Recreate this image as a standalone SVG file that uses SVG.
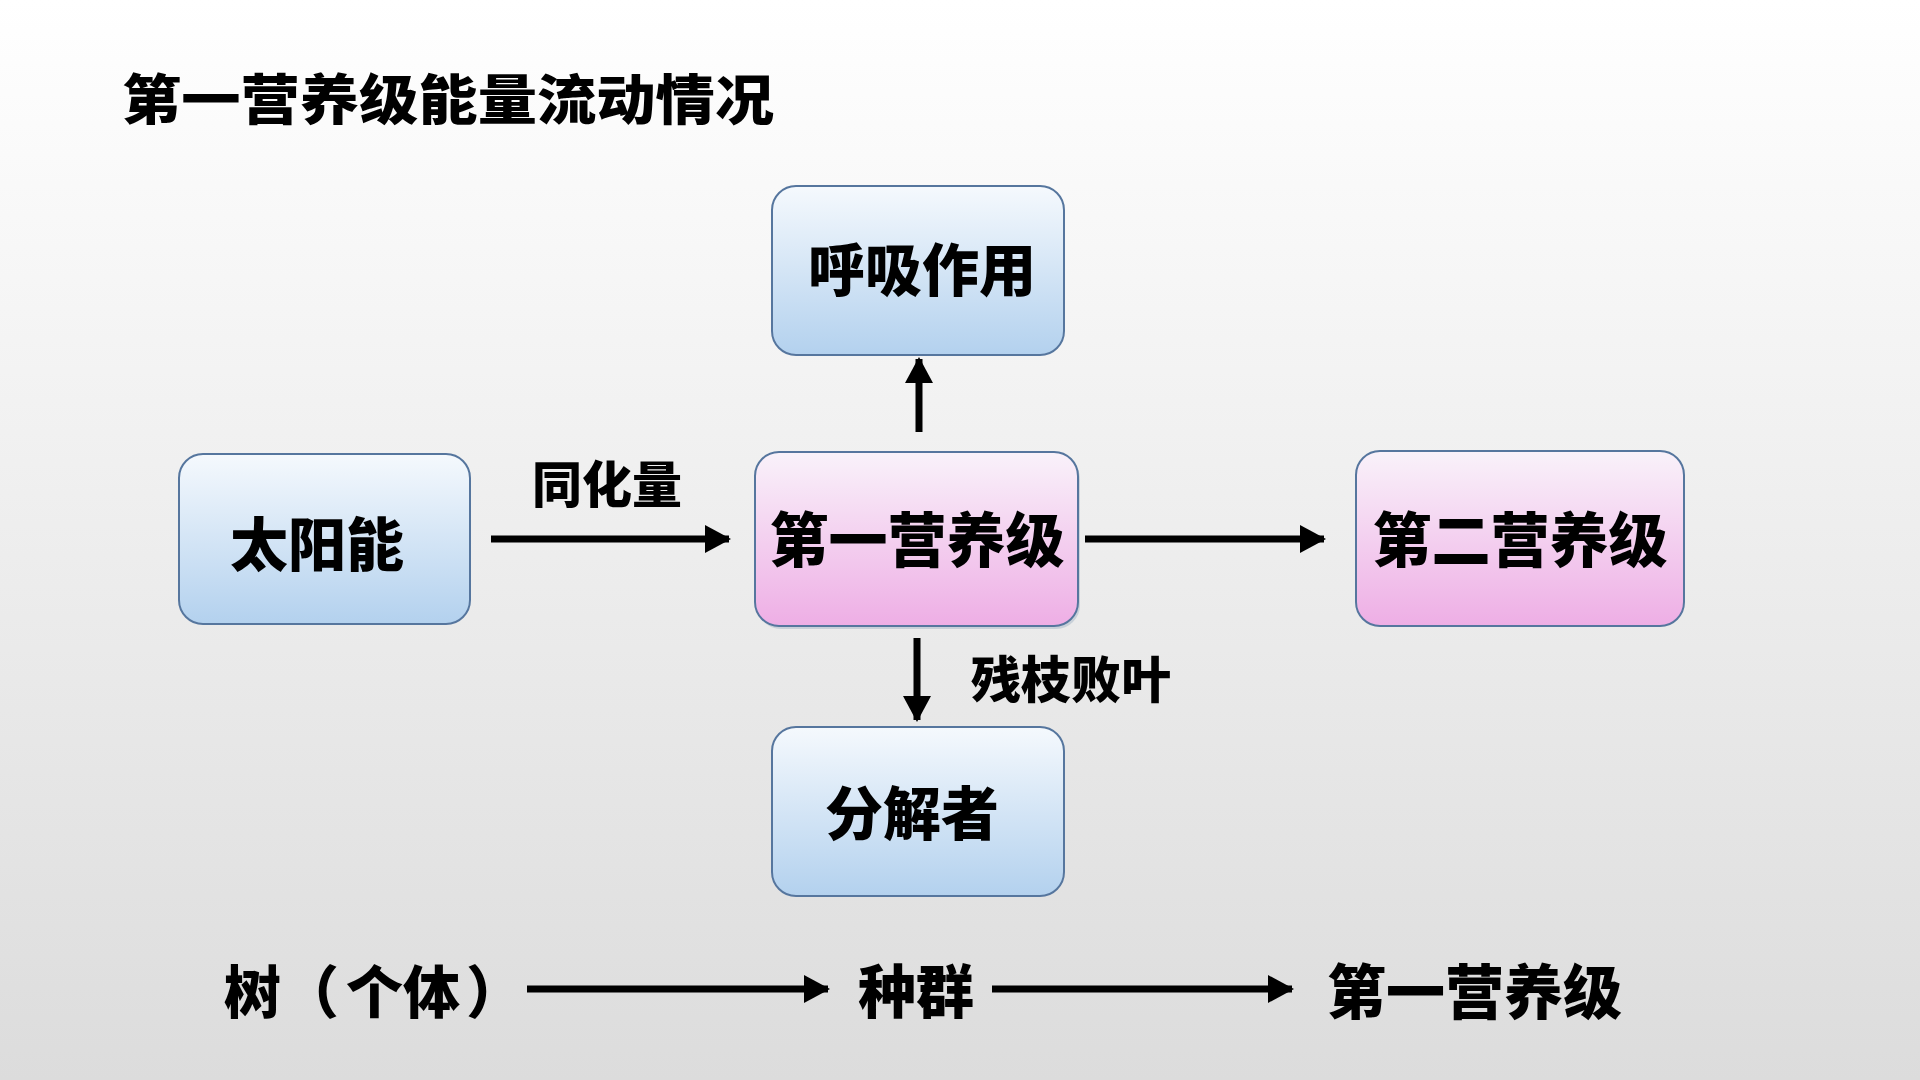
<svg xmlns="http://www.w3.org/2000/svg" width="1920" height="1080" viewBox="0 0 1920 1080">
<style>
.t{font-family:"Noto Sans CJK SC","Noto Sans",sans-serif;font-weight:900;fill:#000;dominant-baseline:central;}
.box{stroke:#56769e;stroke-width:2;}
.blue{fill:url(#gBlue);}
.pink{fill:url(#gPink);}
.arr{stroke:#000;stroke-width:7;fill:none;marker-end:url(#ah);}
</style>
<defs>
<linearGradient id="bg" x1="0" y1="0" x2="0" y2="1">
<stop offset="0" stop-color="#ffffff"/>
<stop offset="1" stop-color="#dcdcdc"/>
</linearGradient>
<linearGradient id="gBlue" x1="0" y1="0" x2="0" y2="1">
<stop offset="0" stop-color="#f5f9fd"/>
<stop offset="1" stop-color="#b3d1ee"/>
</linearGradient>
<linearGradient id="gPink" x1="0" y1="0" x2="0" y2="1">
<stop offset="0" stop-color="#f9f2fa"/>
<stop offset="1" stop-color="#eeaee5"/>
</linearGradient>
<marker id="ah" markerUnits="userSpaceOnUse" markerWidth="26" markerHeight="28" refX="24" refY="14" orient="auto">
<path d="M0,0 L26,14 L0,28 Z" fill="#000"/>
</marker>
</defs>
<rect x="0" y="0" width="1920" height="1080" fill="url(#bg)"/>
<text class="t" x="122" y="96" font-size="54" textLength="652" lengthAdjust="spacingAndGlyphs">第一营养级能量流动情况</text>

<g id="connectors">
<line class="arr" x1="919" y1="432" x2="919" y2="359"/>
<line class="arr" x1="491" y1="539" x2="729" y2="539"/>
<line class="arr" x1="1085" y1="539" x2="1324" y2="539"/>
<line class="arr" x1="917" y1="638" x2="917" y2="720"/>
<line class="arr" x1="527" y1="989" x2="828" y2="989"/>
<line class="arr" x1="992" y1="989" x2="1292" y2="989"/>
<text class="t" x="607" y="481" font-size="50" text-anchor="middle">同化量</text>
<text class="t" x="971" y="676" font-size="50">残枝败叶</text>
</g>

<g id="n_huxi">
<rect class="box blue" x="772" y="186" width="292" height="169" rx="24"/>
<text class="t" x="922" y="266" font-size="57" text-anchor="middle">呼吸作用</text>
</g>
<g id="n_taiyang">
<rect class="box blue" x="179" y="454" width="291" height="170" rx="24"/>
<text class="t" x="317" y="541" font-size="58" text-anchor="middle">太阳能</text>
</g>
<g id="n_di1">
<rect x="757" y="455" width="323" height="174" rx="24" fill="#8aa0b8" opacity="0.35"/>
<rect class="box pink" x="755" y="452" width="323" height="174" rx="24"/>
<text class="t" x="917" y="536" font-size="59" text-anchor="middle">第一营养级</text>
</g>
<g id="n_di2">
<rect class="box pink" x="1356" y="451" width="328" height="175" rx="24"/>
<text class="t" x="1520" y="536" font-size="59" text-anchor="middle">第二营养级</text>
</g>
<g id="n_fenjie">
<rect class="box blue" x="772" y="727" width="292" height="169" rx="24"/>
<text class="t" x="912" y="810" font-size="58" text-anchor="middle">分解者</text>
</g>

<g id="n_shu">
<text class="t" y="988" font-size="57"><tspan x="224">树</tspan><tspan x="282">（</tspan><tspan x="346">个体</tspan><tspan x="466">）</tspan></text>
</g>
<g id="n_zhongqun">
<text class="t" x="858" y="988" font-size="58">种群</text>
</g>
<g id="n_di1b">
<text class="t" x="1327" y="988" font-size="59">第一营养级</text>
</g>
</svg>
